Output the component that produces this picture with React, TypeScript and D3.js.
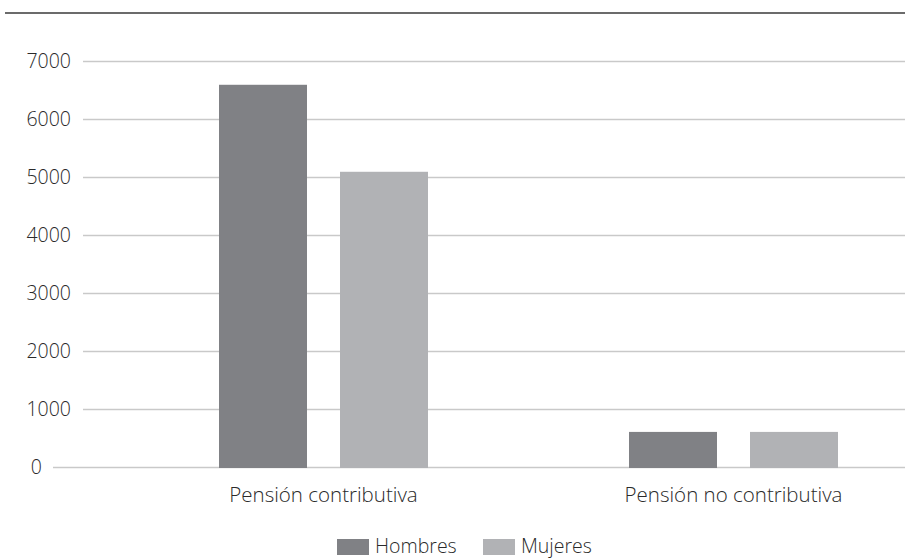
import React from "react";
import * as d3 from "d3";

// Average pension amount by type and sex
const categories = ["Pensión contributiva", "Pensión no contributiva"];
const seriesNames = ["Hombres", "Mujeres"];
const hombres = [6590, 605];
const mujeres = [5090, 605];
const yTicks = [0, 1000, 2000, 3000, 4000, 5000, 6000, 7000];
const yTickLabels = ["0", "1000", "2000", "3000", "4000", "5000", "6000", "7000"];

const W = 905;
const H = 558;
const colors = ["#808185", "#b1b2b5"];
const FONT = "'Open Sans', 'Noto Sans', sans-serif";
const TEXT = "#2a2a2a";

export default function App() {
  const y = d3.scaleLinear().domain([0, 7000]).range([467, 61]);
  const x = d3.scaleBand<string>().domain(categories).range([118.5, 938.5]).paddingInner(0).paddingOuter(0);
  const inner = d3
    .scaleBand<string>()
    .domain(seriesNames)
    .range([100.5, 100.5 + 209])
    .paddingInner(33 / 121)
    .paddingOuter(0);
  const values = [hombres, mujeres];

  return (
    <svg
      width={W}
      height={H}
      style={{ position: "absolute", left: 0, top: 0, background: "#fff" }}
      fontFamily={FONT}
      fontWeight={300}
    >
      <rect x={0} y={0} width={W} height={H} fill="#fff" />
      <line x1={5} x2={W} y1={13} y2={13} stroke="#6b6b6b" strokeWidth={2} />

      {yTicks.map((t, i) => (
        <g key={t}>
          <line
            x1={t === 0 ? 53 : 83}
            x2={W}
            y1={Math.round(y(t)) + 0.5}
            y2={Math.round(y(t)) + 0.5}
            stroke="#c9c9c9"
            strokeWidth={1.3}
          />
          <text
            x={t === 0 ? 42 : 71}
            y={y(t)}
            dy="0.36em"
            textAnchor="end"
            fontSize={19.5}
            fill={TEXT}
            style={{ fontVariantNumeric: "tabular-nums" }}
          >
            {yTickLabels[i]}
          </text>
        </g>
      ))}

      {categories.map((c, ci) => (
        <g key={c} transform={`translate(${x(c)},0)`}>
          {seriesNames.map((s, si) => (
            <rect
              key={s}
              x={inner(s)}
              y={y(values[si][ci])}
              width={inner.bandwidth()}
              height={y(0) - y(values[si][ci]) + 1}
              fill={colors[si]}
            />
          ))}
          <text
            x={x.bandwidth() / 2}
            y={502}
            textAnchor="middle"
            fontSize={20.5}
            fill={TEXT}
          >
            {c}
          </text>
        </g>
      ))}

      <g>
        {seriesNames.map((s, si) => {
          const lx = [337, 483][si];
          return (
            <g key={s}>
              <rect x={lx} y={539} width={32} height={16} fill={colors[si]} />
              <text x={lx + 38} y={553} fontSize={19.5} fill={TEXT}>
                {s}
              </text>
            </g>
          );
        })}
      </g>
    </svg>
  );
}
